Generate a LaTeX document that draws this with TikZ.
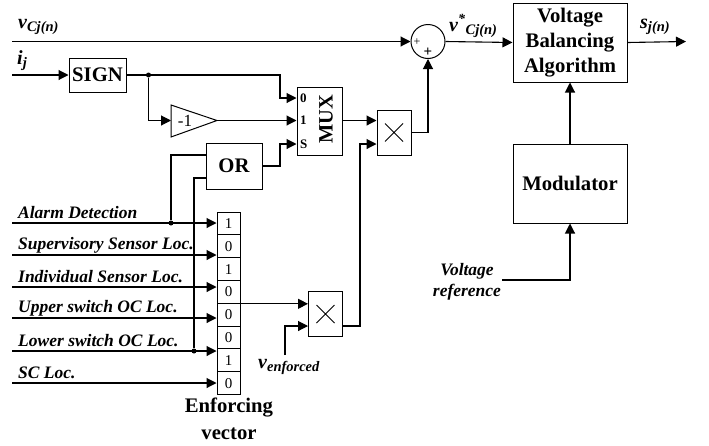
\documentclass[tikz,border=0pt]{standalone}
\usepackage{fontspec}
\setmainfont{Liberation Serif}
\usetikzlibrary{arrows.meta}
\tikzset{
    block/.style = {draw, line width=1pt, fill=white, align=center, font=\bfseries\fontsize{20.7}{25}\selectfont, inner sep=0pt},
    cell/.style = {draw, line width=1pt, minimum width=23pt, minimum height=22.8pt, inner sep=0pt, font=\fontsize{15}{15}\selectfont},
    sig/.style = {line width=1.1pt, -{Triangle[length=10pt,width=10pt]}},
    wire/.style = {line width=1.1pt},
    dot/.style = {circle, fill=black, inner sep=0pt, minimum size=5pt},
    lab/.style = {anchor=west, inner sep=0pt, font=\bfseries\itshape\fontsize{17.5}{18}\selectfont},
    sym/.style = {inner sep=0pt, font=\bfseries\itshape\fontsize{20}{20}\selectfont},
    muxpin/.style = {font=\bfseries\fontsize{13}{13}\selectfont, inner sep=0pt, anchor=west}
}
\begin{document}
\begin{tikzpicture}[x=1pt,y=-1pt]
    \useasboundingbox (0,0) rectangle (709,445);
    % blocks
    \node[block, minimum width=114pt, minimum height=79pt] (balance) at (570,42.5) {Voltage\\Balancing\\Algorithm};
    \node[block, minimum width=114pt, minimum height=79pt] (modulator) at (570,183.5) {Modulator};
    \node[block, minimum width=57pt, minimum height=34pt] (sign) at (97.5,75) {SIGN};
    \node[block, minimum width=56pt, minimum height=46pt] (or) at (234,166) {OR};
    \node[block, minimum width=45pt, minimum height=68pt] (mux) at (319.5,121) {};
    \node[rotate=90, font=\bfseries\fontsize{20.4}{20}\selectfont, inner sep=0pt] (muxname) at (326,119) {MUX};
    \node[muxpin] (mux0) at (300,98) {0};
    \node[muxpin] (mux1) at (300,120.5) {1};
    \node[muxpin] (muxs) at (300,144) {S};
    \draw[line width=1pt] (171,105) -- (217,120.5) -- (171,137) -- cycle;
    \coordinate (gainin) at (171,120.5);
    \coordinate (gainout) at (217,120.5);
    \node[inner sep=0pt, font=\fontsize{17}{17}\selectfont] (gainval) at (185,120.5) {-1};
    \node[draw, line width=1pt, minimum width=34pt, minimum height=45pt, inner sep=0pt] (prod1) at (325.5,314) {};
    \node[draw, line width=1pt, minimum width=34pt, minimum height=45pt, inner sep=0pt] (prod2) at (394,132.5) {};
    \node[draw, line width=1pt, circle, minimum size=34pt, inner sep=0pt] (sum) at (428,41.5) {};
    \node[inner sep=0pt, font=\fontsize{12}{12}\selectfont] (plusa) at (417,42) {+};
    \node[inner sep=0pt, font=\bfseries\fontsize{15}{15}\selectfont] (plusb) at (428,52.5) {+};
    \foreach \p in {prod1,prod2} {
        \draw[line width=0.8pt] (\p.center) ++(-9,-9) -- ++(18,18) ++(-18,0) -- ++(18,-18);
    }

    % enforcing vector
    \foreach \v [count=\i] in {1,0,1,0,0,0,1,0} {
        \node[cell] (cell\i) at (228.5,{223.5+(\i-1)*22.8}) {\v};
    }
    \node[align=center, inner sep=0pt, font=\bfseries\fontsize{20.7}{27}\selectfont] (vecname) at (229,419) {Enforcing\\vector};

    % inputs
    \coordinate (vin) at (12,41.5);
    \coordinate (iin) at (12,75);
    \coordinate (sout) at (686,41.5);
    \coordinate (vref) at (502,280);
    \coordinate (venf) at (285,355);
    \foreach \n/\y/\t in {1/223/Alarm Detection,2/255/Supervisory Sensor Loc.,3/287/Individual Sensor Loc.,4/318/Upper switch OC Loc.,5/351/Lower switch OC Loc.,6/383/SC Loc.} {
        \coordinate (in\n) at (12,\y);
        \node[lab] (name\n) at (18,\y-10) {\t};
        \draw[sig] (in\n) -- (in\n -| cell1.west);
    }

    % labels
    \node[sym, anchor=west] (vlabel) at (18,27) {v\textsubscript{\fontsize{14.5}{15}\selectfont Cj(n)}};
    \node[sym, anchor=west] (ilabel) at (17,61) {i\textsubscript{\fontsize{14.5}{15}\selectfont j}};
    \node[sym, anchor=west] (vstar) at (449,26) {v\textsuperscript{*}\textsubscript{\fontsize{14.5}{15}\selectfont Cj(n)}};
    \node[sym, anchor=west] (slabel) at (640,27) {s\textsubscript{\fontsize{14.5}{15}\selectfont j(n)}};
    \node[sym, anchor=west] (venflabel) at (258,367) {v\textsubscript{\fontsize{14.5}{15}\selectfont enforced}};
    \node[align=center, inner sep=0pt, font=\bfseries\itshape\fontsize{17.5}{21}\selectfont] (vreflabel) at (467,282) {Voltage\\reference};

    % connectors
    \draw[sig] (vin) -- (sum.west);
    \draw[sig] (sum.east) -- (balance.west);
    \draw[sig] (balance.east) -- (sout);
    \draw[sig] (iin) -- (sign.west);
    \draw[sig] (modulator.north) -- (balance.south);
    \draw[sig] (vref) -| (modulator.south);
    \node[dot] (split) at (148.5,75) {};
    \draw[sig] (sign.east) -- (280,75) |- (mux0 -| mux.west);
    \draw[sig] (split) |- (gainin);
    \draw[sig] (gainout) -- (mux1 -| mux.west);
    \draw[sig] (or.east) -- (280,166) |- (muxs -| mux.west);
    \node[dot] (alarm) at (171,223) {};
    \node[dot] (lower) at (194,351) {};
    \draw[wire] (alarm) |- (206,155);
    \draw[wire] (lower) |- (206,178);
    \draw[sig] (mux.east |- mux1) -- (prod2.west |- mux1);
    \draw[sig] (prod1.east |- 0,326) -- (360,326) |- (prod2.west |- 0,144);
    \draw[sig] (prod2.east) -- (428,132.5) -- (sum.south);
    \draw[sig] (cell4.south east) -- (prod1.west |- cell4.south);
    \draw[sig] (venf) |- (prod1.west |- 0,326);
\end{tikzpicture}
\end{document}
